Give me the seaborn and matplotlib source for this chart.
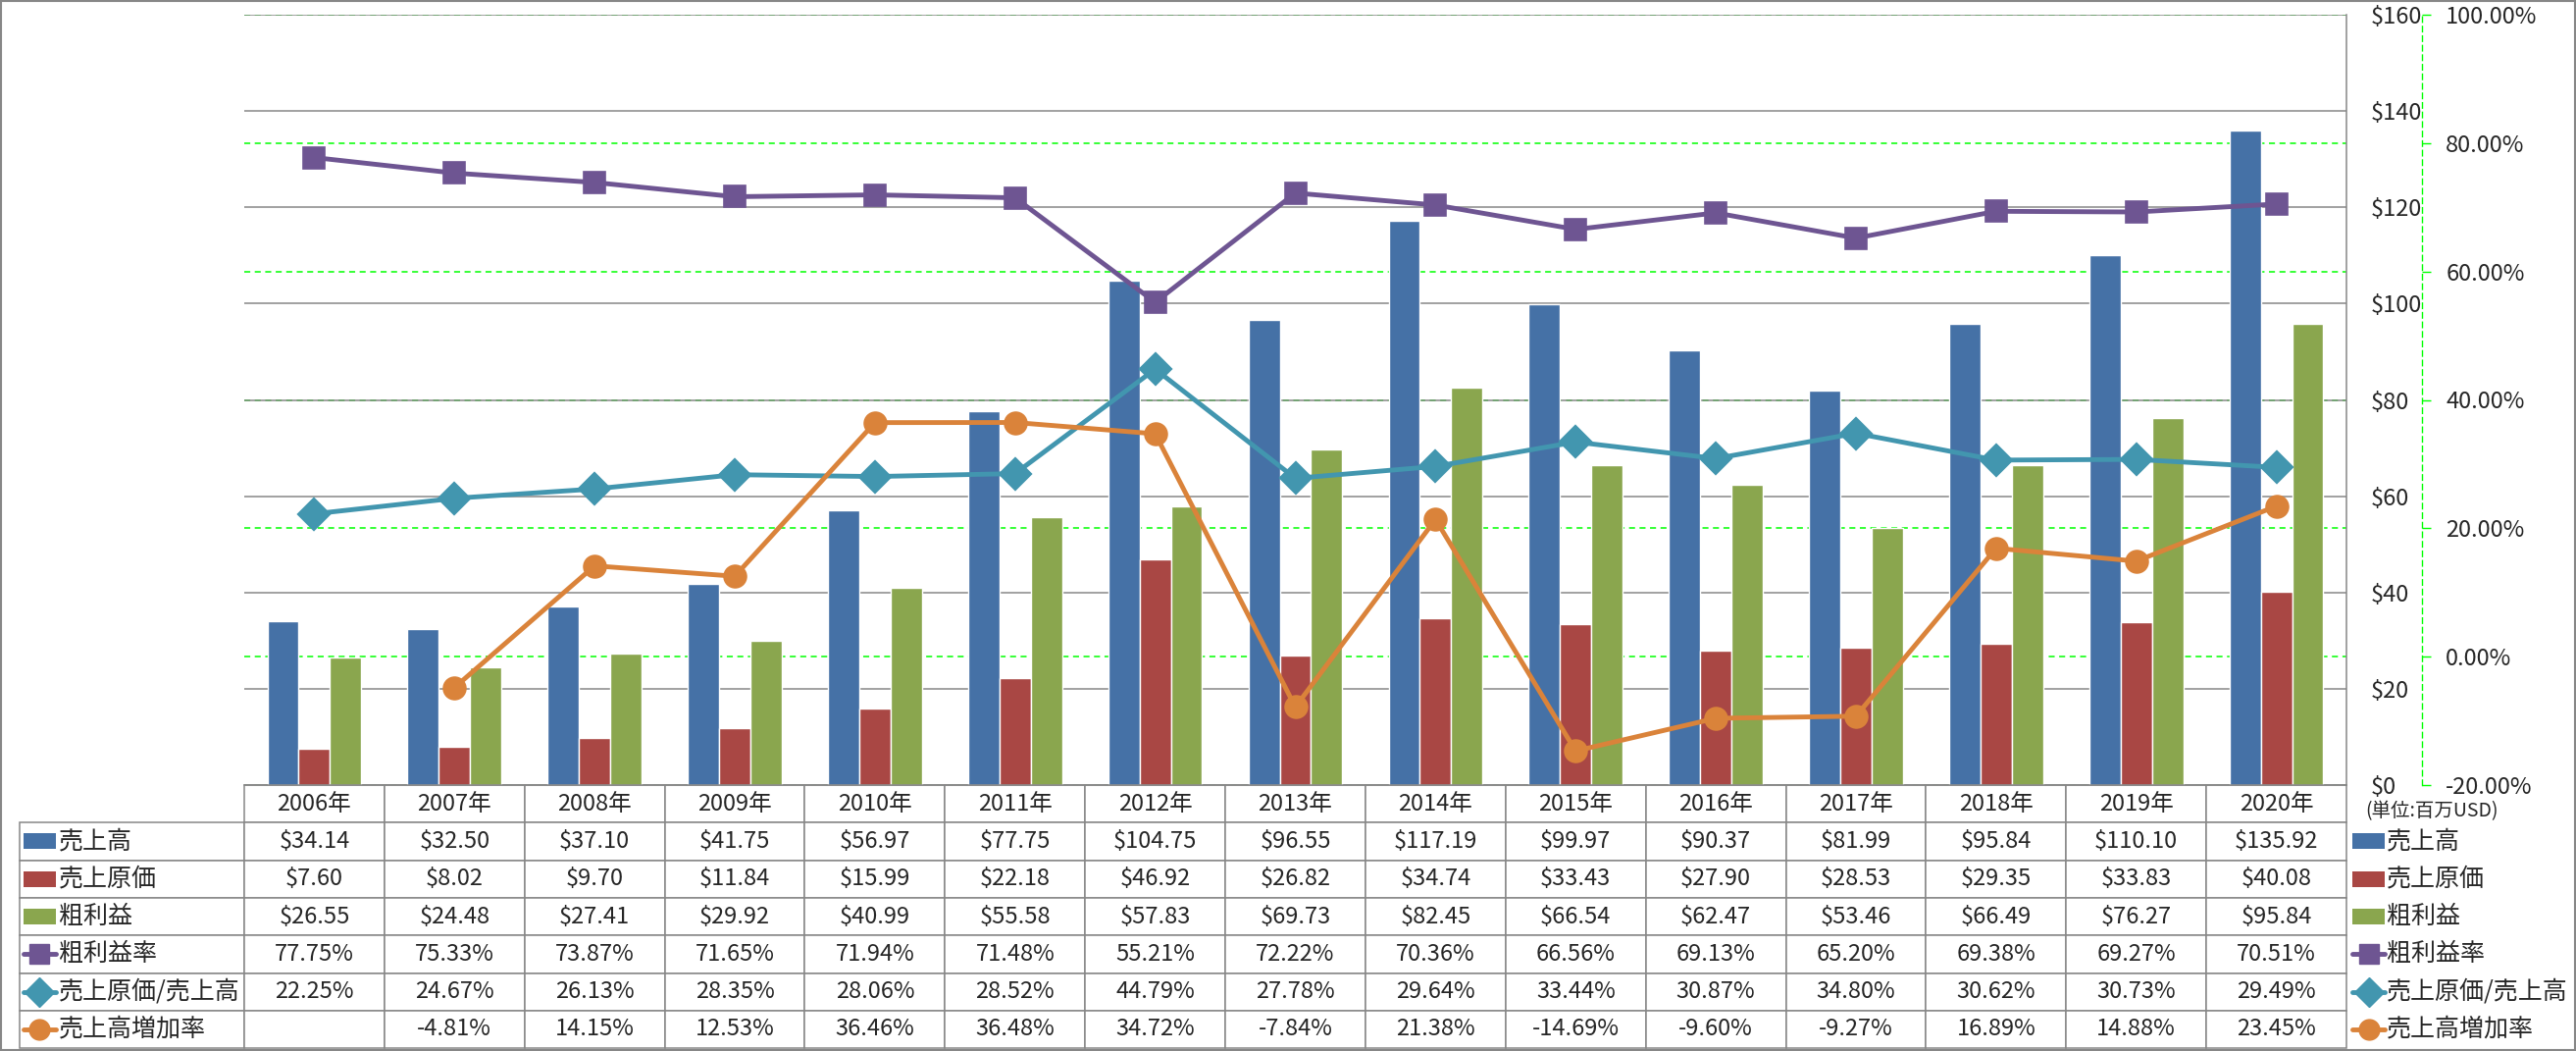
import numpy as np
import pandas as pd
import seaborn as sns
import matplotlib.pyplot as plt
from matplotlib.table import Table
from matplotlib.patches import Rectangle
from matplotlib.lines import Line2D

# データ (単位: 百万USD / %)
years = ['2006年', '2007年', '2008年', '2009年', '2010年', '2011年', '2012年', '2013年',
         '2014年', '2015年', '2016年', '2017年', '2018年', '2019年', '2020年']
sales = [34.14, 32.50, 37.10, 41.75, 56.97, 77.75, 104.75, 96.55, 117.19, 99.97, 90.37, 81.99, 95.84, 110.10, 135.92]
cost = [7.60, 8.02, 9.70, 11.84, 15.99, 22.18, 46.92, 26.82, 34.74, 33.43, 27.90, 28.53, 29.35, 33.83, 40.08]
gross = [26.55, 24.48, 27.41, 29.92, 40.99, 55.58, 57.83, 69.73, 82.45, 66.54, 62.47, 53.46, 66.49, 76.27, 95.84]
gross_rate = [77.75, 75.33, 73.87, 71.65, 71.94, 71.48, 55.21, 72.22, 70.36, 66.56, 69.13, 65.20, 69.38, 69.27, 70.51]
cost_ratio = [22.25, 24.67, 26.13, 28.35, 28.06, 28.52, 44.79, 27.78, 29.64, 33.44, 30.87, 34.80, 30.62, 30.73, 29.49]
growth = [np.nan, -4.81, 14.15, 12.53, 36.46, 36.48, 34.72, -7.84, 21.38, -14.69, -9.60, -9.27, 16.89, 14.88, 23.45]

bar_names = ['売上高', '売上原価', '粗利益']
line_names = ['粗利益率', '売上原価/売上高', '売上高増加率']
bar_colors = ['#4571A6', '#A94744', '#8AA64E']
line_colors = ['#6E5592', '#4296AF', '#DA833A']
line_markers = ['s', 'D', 'o']
marker_sizes = [15, 16, 16]

df_bar = pd.DataFrame({'year': years * 3,
                       'series': np.repeat(bar_names, len(years)),
                       'value': sales + cost + gross})
df_line = pd.DataFrame({'year': years * 3,
                        'series': np.repeat(line_names, len(years)),
                        'value': gross_rate + cost_ratio + growth})

sns.set_style('white')
plt.rcParams['font.family'] = ['Noto Sans CJK JP', 'DejaVu Sans']

# レイアウト (ピクセル)
W, H = 2626, 1071
L, R, T, B = 249, 2392, 15, 800
def axx(px):
    return (px - L) / (R - L)
rh = 38.3 / (B - T)
gray = '#878787'

fig = plt.figure(figsize=(W / 100, H / 100), dpi=100)
ax_g = fig.add_axes([L / W, (H - B) / H, (R - L) / W, (B - T) / H])
ax = ax_g.twinx()
ax2 = ax_g.twinx()

# 緑の点線グリッド (%)
ax_g.set_ylim(-20, 100)
ax_g.set_yticks(np.arange(-20, 101, 20))
ax_g.yaxis.grid(True, color='#00FF00', linestyle=(0, (4, 3)), linewidth=1.1)
ax_g.tick_params(left=False, labelleft=False, bottom=False, labelbottom=False)

# 棒グラフ
sns.barplot(data=df_bar, x='year', y='value', hue='series', order=years,
            hue_order=bar_names, palette=bar_colors, width=0.67, saturation=1,
            legend=False, ax=ax)
ax.set_ylim(0, 160)
ax.set_yticks(np.arange(0, 161, 20))
ax.set_yticklabels([f'${v}' for v in range(0, 161, 20)])
ax.yaxis.grid(True, color=gray, linewidth=1.1)
ax.set_axisbelow(True)
ax.tick_params(axis='y', length=0, pad=18, labelsize=17)
ax.set_xlabel('')
ax.set_ylabel('')

# 折れ線グラフ
sns.pointplot(data=df_line, x='year', y='value', hue='series', order=years,
              hue_order=line_names, palette=line_colors, markers=line_markers,
              linestyles='-', errorbar=None, legend=False, ax=ax2,
              linewidth=3.5, markersize=15)
ax2.set_ylim(-20, 100)
pct_ticks = np.arange(-20, 101, 20)
ax2.set_yticks(pct_ticks, labels=[f'{t:.2f}%' for t in pct_ticks])
ax2.get_yticklabels()[0].set_color('red')
ax2.tick_params(axis='y', direction='out', length=6.5, color='#00FF00', width=1,
                pad=11, labelsize=17)
ax2.set_xlabel('')
ax2.set_ylabel('')
ax2.set_xlim(-0.5, len(years) - 0.5)

for a in (ax_g, ax, ax2):
    for s in a.spines.values():
        s.set_visible(False)
ax.spines['right'].set_visible(True)
ax.spines['right'].set_color(gray)
ax.spines['right'].set_linewidth(1.1)
ax.spines['bottom'].set_visible(True)
ax.spines['bottom'].set_color(gray)
ax.spines['bottom'].set_linewidth(1.1)
ax2.spines['right'].set_visible(True)
ax2.spines['right'].set_position(('outward', 55.4))
ax2.spines['right'].set_color('#00FF00')
ax2.spines['right'].set_linestyle((0, (4, 3)))
ax2.spines['right'].set_linewidth(1)

# データテーブル (bbox はデータ列のみ、行ラベル列は左側に付く)
row_vals = [sales, cost, gross, gross_rate, cost_ratio, growth]
row_fmt = ['${:.2f}'] * 3 + ['{:.2f}%'] * 3
row_names = bar_names + line_names
lab_w = axx(L) - axx(20)
col_w = 1 / len(years)
tbl = Table(ax, bbox=[0, -7 * rh, 1, 7 * rh])
c = tbl.add_cell(0, -1, lab_w, rh, text='', facecolor='white', edgecolor=gray)
c.visible_edges = ''
for j, y in enumerate(years):
    tbl.add_cell(0, j, col_w, rh, text=y, loc='center', facecolor='white', edgecolor=gray)
for i, (name, vals, fmt) in enumerate(zip(row_names, row_vals, row_fmt), start=1):
    c = tbl.add_cell(i, -1, lab_w, rh, text=name, loc='left', facecolor='white', edgecolor=gray)
    c.PAD = 0.175
    for j, v in enumerate(vals):
        txt = '' if np.isnan(v) else fmt.format(v)
        tbl.add_cell(i, j, col_w, rh, text=txt, loc='center', facecolor='white', edgecolor=gray)
tbl.auto_set_font_size(False)
tbl.set_fontsize(17)
for (r, col), cell in tbl.get_celld().items():
    cell.set_linewidth(1.1)
    if col == -1:
        cell.get_text().set_fontsize(18)
ax.add_table(tbl)

# 凡例キー (テーブル左側と右側)
def add_keys(x0, x1):
    for i in range(6):
        yc = -(i + 1.5) * rh
        if i < 3:
            fig.add_artist(Rectangle((axx(x0), yc - 8 / (B - T)), axx(x1) - axx(x0), 16 / (B - T),
                                     transform=ax.transAxes, color=bar_colors[i], lw=0))
        else:
            k = i - 3
            fig.add_artist(Line2D([axx(x0), axx(x1)], [yc, yc], transform=ax.transAxes,
                                  color=line_colors[k], lw=3.5))
            fig.add_artist(Line2D([axx((x0 + x1) / 2)], [yc], transform=ax.transAxes,
                                  color=line_colors[k], marker=line_markers[k],
                                  markersize=marker_sizes[k] - 1, lw=0))

add_keys(24, 57)
add_keys(2398, 2431)
for i, name in enumerate(row_names):
    ax.text(axx(2433), -(i + 1.5) * rh, name, transform=ax.transAxes,
            fontsize=18, va='center', ha='left')
ax.text(axx(2411), -27 / (B - T), '(単位:百万USD)', transform=ax.transAxes,
        fontsize=14, va='center', ha='left')

# 外枠
fig.add_artist(Rectangle((0.0004, 0.0006), 0.9992, 0.9988, transform=fig.transFigure,
                         fill=False, edgecolor=gray, lw=1.5))

fig.savefig('out.png', dpi=100)
